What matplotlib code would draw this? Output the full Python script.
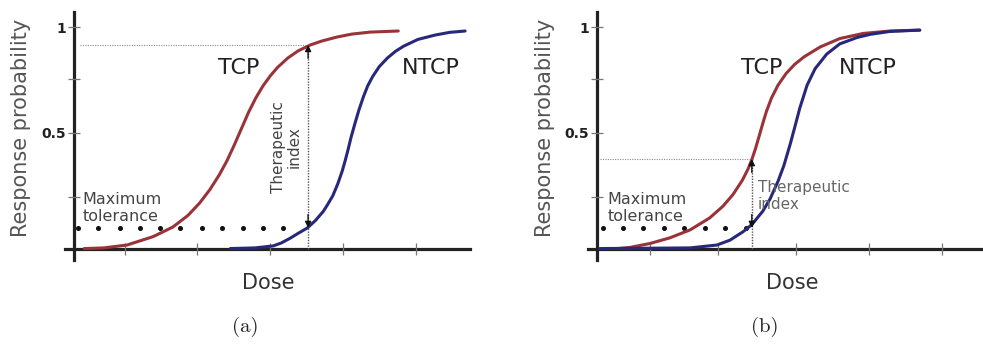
import matplotlib
matplotlib.use("Agg")
import matplotlib.pyplot as plt

W, H = 983, 345

# ---------------- data ----------------
# Panel (a)
tcp_a_dose = [0.14, 0.41, 0.73, 1.09, 1.36, 1.57, 1.73, 1.87, 2.00, 2.10, 2.20, 2.30,
              2.40, 2.50, 2.60, 2.70, 2.80, 2.94, 3.08, 3.25, 3.41, 3.62, 3.82, 4.07, 4.46]
tcp_a_prob = [0.002, 0.005, 0.018, 0.056, 0.099, 0.152, 0.208, 0.268, 0.335, 0.395, 0.465,
              0.540, 0.615, 0.680, 0.735, 0.780, 0.818, 0.860, 0.892, 0.919, 0.937, 0.955,
              0.968, 0.977, 0.982]
ntcp_a_dose = [2.15, 2.49, 2.74, 2.85, 2.97, 3.08, 3.21, 3.32, 3.43, 3.49, 3.56, 3.63,
               3.69, 3.73, 3.77, 3.81, 3.87, 3.92, 3.98, 4.04, 4.11, 4.20, 4.31, 4.42,
               4.53, 4.73, 4.97, 5.17, 5.38]
ntcp_a_prob = [0.002, 0.005, 0.014, 0.027, 0.048, 0.070, 0.095, 0.128, 0.170, 0.201, 0.240,
               0.295, 0.352, 0.398, 0.448, 0.502, 0.572, 0.627, 0.685, 0.735, 0.778, 0.822,
               0.860, 0.890, 0.913, 0.944, 0.964, 0.976, 0.982]

# Panel (b)
tcp_b_dose = [0.28, 0.45, 0.73, 1.00, 1.28, 1.55, 1.73, 1.87, 2.00, 2.08, 2.13, 2.18,
              2.23, 2.28, 2.33, 2.40, 2.49, 2.60, 2.72, 2.85, 3.07, 3.34, 3.66, 4.03, 4.44]
tcp_b_prob = [0.002, 0.007, 0.025, 0.050, 0.086, 0.140, 0.192, 0.245, 0.310, 0.362, 0.403,
              0.452, 0.508, 0.565, 0.619, 0.680, 0.738, 0.790, 0.832, 0.866, 0.910, 0.948,
              0.971, 0.982, 0.986]
ntcp_b_dose = [0.04, 1.28, 1.65, 1.83, 2.01, 2.13, 2.28, 2.38, 2.49, 2.57, 2.66, 2.72,
               2.79, 2.89, 3.00, 3.16, 3.34, 3.58, 3.76, 4.03, 4.44]
ntcp_b_prob = [0.002, 0.005, 0.018, 0.040, 0.078, 0.110, 0.170, 0.225, 0.305, 0.375, 0.475,
               0.548, 0.635, 0.738, 0.812, 0.878, 0.924, 0.953, 0.967, 0.980, 0.986]

# Maximum tolerance level and dotted markers
max_tol = 0.095
tol_dots_a = [0.06, 0.33, 0.63, 0.91, 1.18, 1.46, 1.76, 2.04, 2.32, 2.60, 2.87]
tol_dots_b = [0.08, 0.36, 0.63, 0.92, 1.20, 1.49, 1.76, 2.05]

# Therapeutic index: dose and TCP level at that dose
ti_dose_a, ti_tcp_a = 3.22, 0.919
ti_dose_b, ti_tcp_b = 2.13, 0.405

# Ticks
y_ticks = [0.234, 0.523, 0.766, 1.0]
y_tick_labels = ["", "0.5", "", "1"]
x_ticks_a = [0.70, 1.69, 2.70, 3.70, 4.70]
x_ticks_b = [0.73, 1.66, 2.74, 3.74, 4.75]

# ---------------- drawing ----------------
RED = "#9a3338"
BLUE = "#28287a"
AX_COL = "#222222"

fig = plt.figure(figsize=(W / 100, H / 100), dpi=100)


def px_rect(left, right, top, bottom):
    return [left / W, 1 - bottom / H, (right - left) / W, (bottom - top) / H]


def setup(ax, xlim, xticks):
    ax.set_xlim(*xlim)
    ax.set_ylim(-0.0495, 1.0676)
    for s in ("top", "right"):
        ax.spines[s].set_visible(False)
    ax.spines["left"].set_position(("data", 0))
    ax.spines["bottom"].set_position(("data", 0))
    for s in ("left", "bottom"):
        ax.spines[s].set_linewidth(2.3)
        ax.spines[s].set_color(AX_COL)
        ax.spines[s].set_zorder(1)
    ax.set_xticks(xticks)
    ax.set_xticklabels([])
    ax.set_yticks(y_ticks)
    ax.set_yticklabels(y_tick_labels, fontweight="bold", fontsize=10, color="#222222")
    ax.tick_params(axis="x", direction="inout", length=9, width=0.9, color="#777777")
    ax.tick_params(axis="y", direction="inout", length=9, width=0.9, color="#777777", pad=1)
    ax.patch.set_alpha(0)


def arrow(ax, x, y_from, y_to):
    ax.annotate("", xy=(x, y_to), xytext=(x, y_from),
                arrowprops=dict(arrowstyle="-|>", color="#111111", lw=1.0,
                                mutation_scale=9, shrinkA=0, shrinkB=0))


def curves(ax, d1, p1, d2, p2):
    kw = dict(lw=2.2, solid_capstyle="round", solid_joinstyle="round", zorder=3)
    ax.plot(d1, p1, color=RED, **kw)
    ax.plot(d2, p2, color=BLUE, **kw)


# Panel (a)
axa = fig.add_axes(px_rect(65, 470, 12, 260))
setup(axa, (-0.1238, 5.447), x_ticks_a)
curves(axa, tcp_a_dose, tcp_a_prob, ntcp_a_dose, ntcp_a_prob)
axa.plot(tol_dots_a, [max_tol] * len(tol_dots_a), ls="none", marker="o", ms=2.6, color="#111111")
axa.plot([0.08, ti_dose_a], [ti_tcp_a, ti_tcp_a], ls=(0, (1, 1.2)), lw=0.8, color="#8a8a8a")
axa.plot([ti_dose_a, ti_dose_a], [0, ti_tcp_a], ls=(0, (1, 1)), lw=1.0, color="#555555", zorder=2)
arrow(axa, ti_dose_a, ti_tcp_a - 0.06, ti_tcp_a)
arrow(axa, ti_dose_a, max_tol + 0.06, max_tol)
axa.text(0.12, 0.185, "Maximum\ntolerance", fontsize=11.5, color="#444444",
         ha="left", va="center", linespacing=1.2)
axa.text(2.92, 0.459, "Therapeutic\nindex", fontsize=11, color="#444444", rotation=90,
         ha="center", va="center", multialignment="center", linespacing=1.05)
axa.text(2.27, 0.815, "TCP", fontsize=16, color="#222222", ha="center", va="center")
axa.text(4.91, 0.815, "NTCP", fontsize=16, color="#222222", ha="center", va="center")

# Panel (b)
axb = fig.add_axes(px_rect(588, 983, 12, 260))
setup(axb, (-0.1238, 5.31), x_ticks_b)
curves(axb, tcp_b_dose, tcp_b_prob, ntcp_b_dose, ntcp_b_prob)
axb.plot(tol_dots_b, [max_tol] * len(tol_dots_b), ls="none", marker="o", ms=2.6, color="#111111")
axb.plot([0.04, ti_dose_b], [ti_tcp_b, ti_tcp_b], ls=(0, (1, 1.2)), lw=0.8, color="#8a8a8a")
axb.plot([ti_dose_b, ti_dose_b], [0, ti_tcp_b], ls=(0, (1, 1)), lw=1.0, color="#555555", zorder=2)
arrow(axb, ti_dose_b, ti_tcp_b - 0.06, ti_tcp_b)
arrow(axb, ti_dose_b, max_tol + 0.06, max_tol)
axb.text(0.14, 0.185, "Maximum\ntolerance", fontsize=11.5, color="#444444",
         ha="left", va="center", linespacing=1.2)
axb.text(2.21, 0.239, "Therapeutic\nindex", fontsize=11, color="#666666",
         ha="left", va="center", linespacing=1.1)
axb.text(2.27, 0.815, "TCP", fontsize=16, color="#222222", ha="center", va="center")
axb.text(3.73, 0.815, "NTCP", fontsize=16, color="#222222", ha="center", va="center")


def ftext(x, y, s, **kw):
    fig.text(x / W, 1 - y / H, s, **kw)


for cx, dx in ((21, 268), (545, 792)):
    ftext(cx, 128, "Response probability", rotation=90, fontsize=15, color="#555555",
          ha="center", va="center")
    ftext(dx, 283, "Dose", fontsize=15, color="#333333", ha="center", va="center")
ftext(245, 327, "(a)", fontsize=15, family="cmr10", color="#222222", ha="center", va="center")
ftext(765, 327, "(b)", fontsize=15, family="cmr10", color="#222222", ha="center", va="center")

fig.savefig("out.png", dpi=100)
